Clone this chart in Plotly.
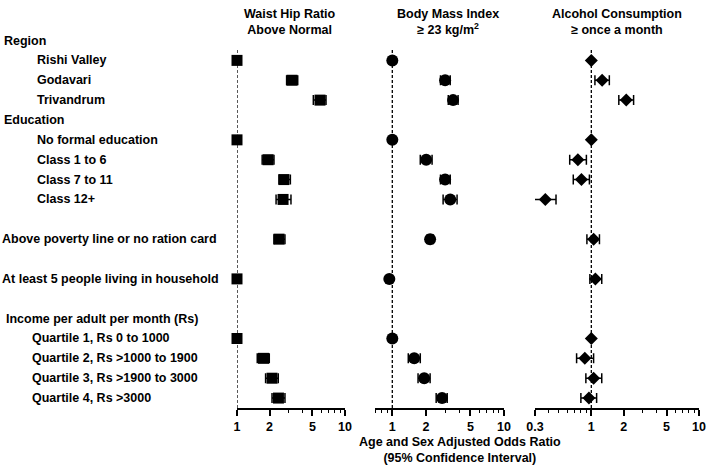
import plotly.graph_objects as go

W, H = 709, 466

# Rows (categories), including headers and spacer rows
row_order = ["Region", "Rishi Valley", "Godavari", "Trivandrum",
             "Education", "No formal education", "Class 1 to 6", "Class 7 to 11", "Class 12+",
             "gap1", "Above poverty line or no ration card",
             "gap2", "At least 5 people living in household",
             "gap3", "Income per adult per month (Rs)",
             "Quartile 1, Rs 0 to 1000", "Quartile 2, Rs >1000 to 1900",
             "Quartile 3, Rs >1900 to 3000", "Quartile 4, Rs >3000"]

categories = ["Rishi Valley", "Godavari", "Trivandrum",
              "No formal education", "Class 1 to 6", "Class 7 to 11", "Class 12+",
              "Above poverty line or no ration card",
              "At least 5 people living in household",
              "Quartile 1, Rs 0 to 1000", "Quartile 2, Rs >1000 to 1900",
              "Quartile 3, Rs >1900 to 3000", "Quartile 4, Rs >3000"]

whr_or = [1, 3.23, 5.87, 1, 1.94, 2.72, 2.67, 2.45, 1.0, 1, 1.76, 2.11, 2.42]
whr_lo = [1, 2.88, 5.09, 1, 1.71, 2.45, 2.30, 2.20, 1.0, 1, 1.54, 1.84, 2.11]
whr_hi = [1, 3.65, 6.67, 1, 2.20, 3.12, 3.16, 2.78, 1.0, 1, 1.99, 2.41, 2.78]

bmi_or = [1, 2.97, 3.50, 1, 2.01, 2.97, 3.30, 2.18, 0.94, 1, 1.57, 1.93, 2.79]
bmi_lo = [1, 2.70, 3.17, 1, 1.78, 2.70, 2.85, 2.05, 0.90, 1, 1.39, 1.70, 2.47]
bmi_hi = [1, 3.30, 3.88, 1, 2.27, 3.30, 3.80, 2.33, 0.98, 1, 1.78, 2.18, 3.10]

alc_or = [1, 1.26, 2.11, 1, 0.75, 0.81, 0.374, 1.05, 1.09, 1, 0.87, 1.05, 0.95]
alc_lo = [1, 1.08, 1.80, 1, 0.63, 0.68, 0.29, 0.91, 0.97, 1, 0.73, 0.89, 0.80]
alc_hi = [1, 1.47, 2.47, 1, 0.90, 0.96, 0.47, 1.19, 1.25, 1, 1.05, 1.25, 1.12]

panel_titles = ["Waist Hip Ratio<br>Above Normal",
                "Body Mass Index<br>≥ 23 kg/m<sup>2</sup>",
                "Alcohol Consumption<br>≥ once a month"]
tickvals_main = [[1, 2, 5, 10], [1, 2, 5, 10], [0.3, 1, 2, 5, 10]]
ticktext_main = [["1", "2", "5", "10"], ["1", "2", "5", "10"], ["0.3", "1", "2", "5", "10"]]
minor_vals = [[3, 4, 6, 7, 8, 9],
              [0.7, 0.8, 0.9, 3, 4, 6, 7, 8, 9],
              [0.4, 0.5, 0.6, 0.7, 0.8, 0.9, 3, 4, 6, 7, 8, 9]]
x_title = "Age and Sex Adjusted Odds Ratio<br>(95% Confidence Interval)"

FONT = "Liberation Sans, Arial, sans-serif"
FS = 12.5

# pixel layout
px_dom = [(237, 345), (375, 504), (535, 699)]
x_ranges = [(0, 1), (-0.155, 1), (-0.523, 1)]
y_top_px, y_bot_px = 30.6, 408
line_top_px = 50

fig = go.Figure()
series = [(whr_or, whr_lo, whr_hi, "square", 11),
          (bmi_or, bmi_lo, bmi_hi, "circle", 12),
          (alc_or, alc_lo, alc_hi, "diamond", 10)]

for i, (orv, lo, hi, sym, sz) in enumerate(series):
    xa = "x" if i == 0 else f"x{i+1}"
    fig.add_trace(go.Scatter(
        x=orv, y=categories, mode="markers", xaxis=xa, yaxis="y",
        cliponaxis=False,
        marker=dict(symbol=sym, size=sz, color="black"),
        error_x=dict(type="data", symmetric=False,
                     array=[h - o for h, o in zip(hi, orv)],
                     arrayminus=[o - l for o, l in zip(orv, lo)],
                     color="black", thickness=1.5, width=5),
        showlegend=False, hoverinfo="skip"))

layout = dict(
    width=W, height=H, autosize=False,
    margin=dict(l=0, r=0, t=0, b=0, pad=0, autoexpand=False),
    paper_bgcolor="white", plot_bgcolor="white",
    font=dict(family=FONT, color="black", size=FS),
    yaxis=dict(type="category", categoryorder="array", categoryarray=row_order,
               range=[len(row_order) - 0.5, -0.5],
               domain=[1 - y_bot_px / H, 1 - y_top_px / H],
               showticklabels=False, showline=False, showgrid=False,
               zeroline=False, ticks="", automargin=False),
)
for i in range(3):
    key = "xaxis" if i == 0 else f"xaxis{i+1}"
    layout[key] = dict(
        type="log", range=list(x_ranges[i]),
        domain=[px_dom[i][0] / W, px_dom[i][1] / W],
        anchor="y", automargin=False,
        showline=True, linecolor="black", linewidth=1.5,
        showgrid=False, zeroline=False,
        ticks="outside", ticklen=6, tickwidth=1.5, tickcolor="black",
        tickmode="array", tickvals=tickvals_main[i], ticktext=ticktext_main[i],
        tickfont=dict(family=FONT, size=FS, color="black", weight="bold"),
        minor=dict(tickmode="array", tickvals=minor_vals[i], ticks="outside",
                   ticklen=3, tickwidth=1, tickcolor="black", showgrid=False),
    )
fig.update_layout(**layout)

# reference dashed lines at OR = 1
for i in range(3):
    xr = "x" if i == 0 else f"x{i+1}"
    fig.add_shape(type="line", xref=xr, yref="y domain",
                  x0=1, x1=1, y0=0,
                  y1=(y_bot_px - line_top_px) / (y_bot_px - y_top_px),
                  line=dict(color="black", width=1.3, dash="3px,2px"))

# row labels
indent = {"Region": 2, "Education": 2, "Income per adult per month (Rs)": 4,
          "Above poverty line or no ration card": 0,
          "At least 5 people living in household": 0}
for r in row_order:
    if r.startswith("gap"):
        continue
    if r in indent:
        xp = indent[r]
    elif r.startswith("Quartile"):
        xp = 30
    else:
        xp = 35
    fig.add_annotation(text=f"<b>{r}</b>", xref="paper", yref="y",
                       x=xp / W, y=r, xanchor="left", yanchor="middle",
                       showarrow=False, font=dict(family=FONT, size=FS, color="black"))

# panel titles
title_x = [290, 448, 617]
for t, xp in zip(panel_titles, title_x):
    fig.add_annotation(text=f"<b>{t}</b>", xref="paper", yref="paper",
                       x=xp / W, y=1 - 22 / H, xanchor="center", yanchor="middle",
                       showarrow=False, font=dict(family=FONT, size=FS, color="black"))

fig.add_annotation(text=f"<b>{x_title}</b>", xref="paper", yref="paper",
                   x=460 / W, y=1 - 450 / H, xanchor="center", yanchor="middle",
                   showarrow=False, font=dict(family=FONT, size=FS, color="black"))

fig.write_html("out.html", config={"displayModeBar": False},
               post_script="document.body.style.margin='0px';document.body.style.overflow='hidden';")
